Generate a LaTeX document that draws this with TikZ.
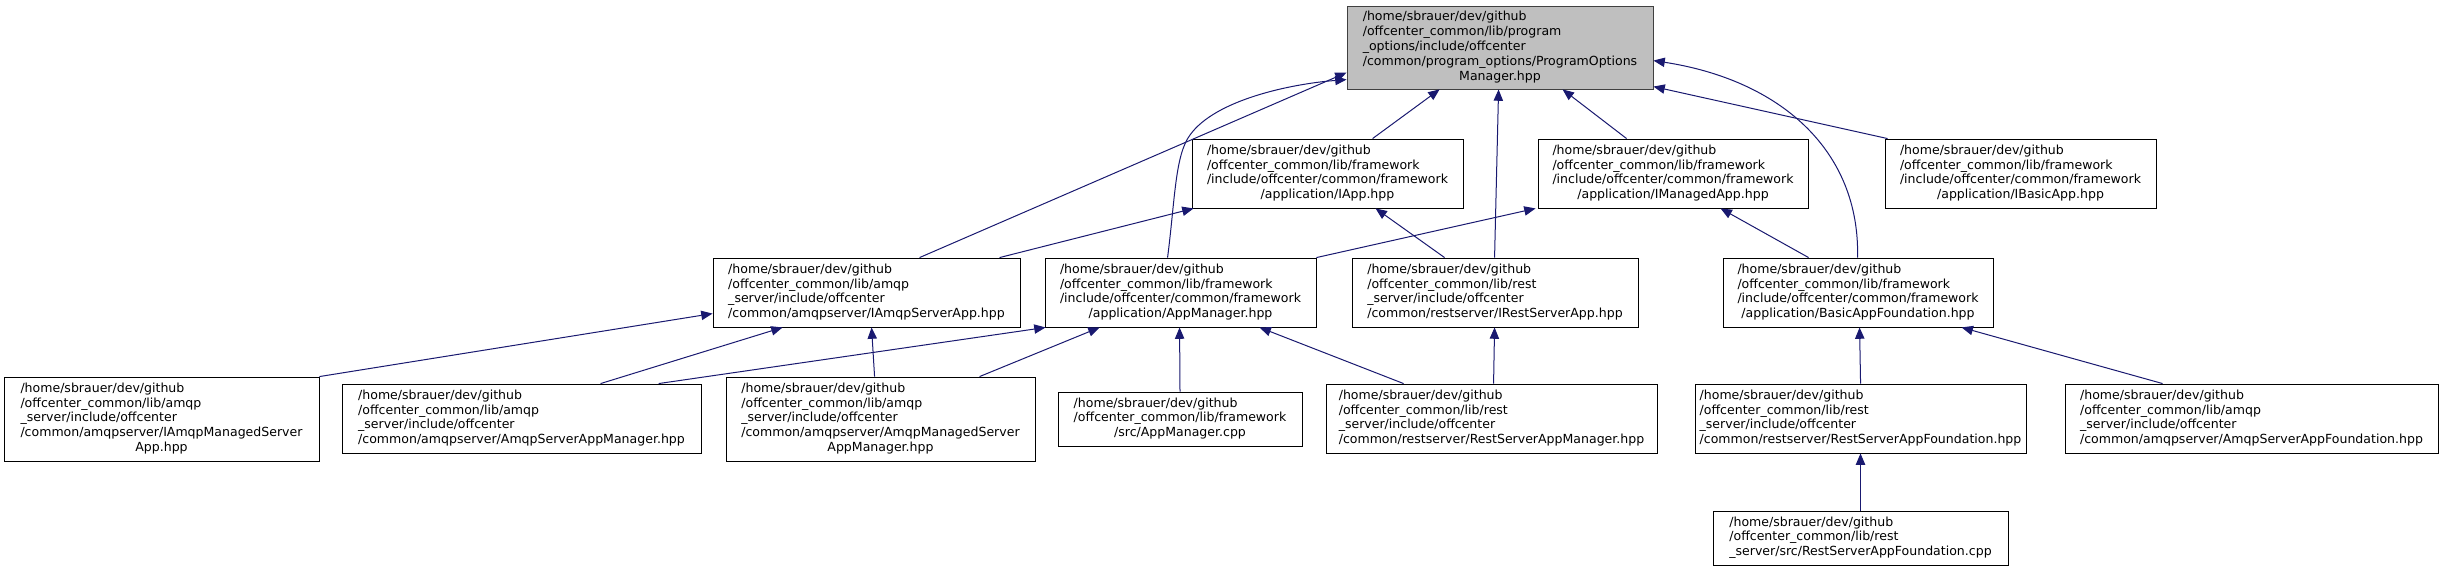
\documentclass[tikz,border=0pt]{standalone}
\usepackage{fontspec}
\setmainfont{DejaVu Sans}
\usetikzlibrary{calc,arrows.meta}
\definecolor{edgec}{HTML}{191970}
\definecolor{mainfill}{HTML}{BFBFBF}
\definecolor{mainborder}{HTML}{404040}
\newcommand{\fl}[2]{\begin{tabular}{@{}l@{}}#1\\\multicolumn{1}{@{}c@{}}{#2}\end{tabular}}
\newcommand{\hm}{/home/sbrauer/dev/github}
\newcommand{\fw}{\hm\\/offcenter\_common/lib/framework\\/include/offcenter/common/framework}
\newcommand{\aq}{\hm\\/offcenter\_common/lib/amqp\\\_server/include/offcenter}
\newcommand{\rs}{\hm\\/offcenter\_common/lib/rest\\\_server/include/offcenter}
\begin{document}
\begin{tikzpicture}[x=0.75pt,y=-0.75pt,
  box/.style={draw=black,line width=0.65pt,fill=white,inner sep=0pt,font=\fontsize{9.4}{11.2}\selectfont},
  sz/.style 2 args={minimum width=#1*0.75pt,minimum height=#2*0.75pt},
  edge/.style={draw=edgec,line width=0.75pt,-{Triangle[length=8.5pt,width=7pt]}}]
\useasboundingbox[fill=white] (0,0) rectangle (2445,571);

% row 1
\node[box,sz={306}{83},fill=mainfill,draw=mainborder] (main) at (1500,47.5)
  {\fl{\hm\\/offcenter\_common/lib/program\\\_options/include/offcenter\\/common/program\_options/ProgramOptions}{Manager.hpp}};
% row 2
\node[box,sz={271}{69}] (iapp) at (1327.5,173.5) {\fl{\fw}{/application/IApp.hpp}};
\node[box,sz={270}{69}] (imanaged) at (1673,173.5) {\fl{\fw}{/application/IManagedApp.hpp}};
\node[box,sz={271}{69}] (ibasic) at (2020.5,173.5) {\fl{\fw}{/application/IBasicApp.hpp}};
% row 3
\node[box,sz={307}{69}] (iamqp) at (866.5,292.5) {\fl{\aq}{/common/amqpserver/IAmqpServerApp.hpp}};
\node[box,sz={271}{69}] (appmgr) at (1180.5,292.5) {\fl{\fw}{/application/AppManager.hpp}};
\node[box,sz={286}{69}] (irest) at (1495,292.5) {\fl{\rs}{/common/restserver/IRestServerApp.hpp}};
\node[box,sz={270}{69}] (basicfound) at (1858,292.5) {\fl{\fw}{/application/BasicAppFoundation.hpp}};
% row 4
\node[box,sz={315}{84}] (iamqpmanaged) at (161.5,419) {\fl{\aq\\/common/amqpserver/IAmqpManagedServer}{App.hpp}};
\node[box,sz={359}{69}] (amqpsrvmgr) at (521.5,418.5) {\fl{\aq}{/common/amqpserver/AmqpServerAppManager.hpp}};
\node[box,sz={309}{84}] (amqpmanagedmgr) at (880.5,419) {\fl{\aq\\/common/amqpserver/AmqpManagedServer}{AppManager.hpp}};
\node[box,sz={244}{54}] (appmgrcpp) at (1180,419) {\fl{\hm\\/offcenter\_common/lib/framework}{/src/AppManager.cpp}};
\node[box,sz={331}{69}] (restmgr) at (1491.5,418.5) {\fl{\rs}{/common/restserver/RestServerAppManager.hpp}};
\node[box,sz={331}{69}] (restfound) at (1860.5,418.5) {\fl{\rs}{/common/restserver/RestServerAppFoundation.hpp}};
\node[box,sz={373}{69}] (amqpfound) at (2251.5,418.5) {\fl{\aq}{/common/amqpserver/AmqpServerAppFoundation.hpp}};
% row 5
\node[box,sz={295}{54}] (restfoundcpp) at (1860.5,538) {\fl{\hm\\/offcenter\_common/lib/rest}{\_server/src/RestServerAppFoundation.cpp}};

% edges to main
\draw[edge] ($(iapp.north west)+(181,0)$) -- ($(main.south west)+(93,0)$);
\draw[edge] ($(irest.north west)+(143,0)$) -- ($(main.south west)+(152,0)$);
\draw[edge] ($(imanaged.north west)+(89,0)$) -- ($(main.south west)+(216,0)$);
\draw[edge] ($(ibasic.north west)+(3,0)$) -- ($(main.north east)+(0,81)$);
\draw[edge] ($(basicfound.north west)+(135,0)$) .. controls (1860,150) and (1780,80) .. ($(main.north east)+(0,55)$);
\draw[edge] ($(iamqp.north west)+(207,0)$) -- ($(main.north west)+(0,67)$);
\draw[edge] ($(appmgr.north west)+(123,0)$) .. controls (1175,200) and (1175,155) .. (1190,135)
  .. controls (1215,100) and (1290,84) .. ($(main.north west)+(0,74)$);
% edges to row 2
\draw[edge] ($(iamqp.north west)+(287,0)$) -- ($(iapp.south west)+(2,0)$);
\draw[edge] ($(appmgr.north east)+(0,0)$) -- ($(imanaged.south west)+(-2,0)$);
\draw[edge] ($(irest.north west)+(93,0)$) -- ($(iapp.south west)+(184,0)$);
\draw[edge] ($(basicfound.north west)+(86,0)$) -- ($(imanaged.south west)+(183,0)$);
% edges to row 3
\draw[edge] (iamqpmanaged.north east) -- ($(iamqp.north west)+(0,56)$);
\draw[edge] ($(amqpsrvmgr.north west)+(259,0)$) -- ($(iamqp.south west)+(70,0)$);
\draw[edge] ($(amqpmanagedmgr.north west)+(149,0)$) -- ($(iamqp.south west)+(159,0)$);
\draw[edge] ($(amqpsrvmgr.north west)+(317,0)$) -- ($(appmgr.south west)+(1,0)$);
\draw[edge] ($(amqpmanagedmgr.north west)+(254,0)$) -- ($(appmgr.south west)+(55,0)$);
\draw[edge] (appmgrcpp.north) -- ($(appmgr.south west)+(135,0)$);
\draw[edge] ($(restmgr.north west)+(78,0)$) -- ($(appmgr.south west)+(215,0)$);
\draw[edge] ($(restmgr.north west)+(168,0)$) -- ($(irest.south west)+(143,0)$);
\draw[edge] ($(restfound.north west)+(166,0)$) -- ($(basicfound.south west)+(137,0)$);
\draw[edge] ($(amqpfound.north west)+(98,0)$) -- ($(basicfound.south west)+(239,0)$);
% edge to row 4
\draw[edge] (restfoundcpp.north) -- (restfound.south);
\end{tikzpicture}
\end{document}
